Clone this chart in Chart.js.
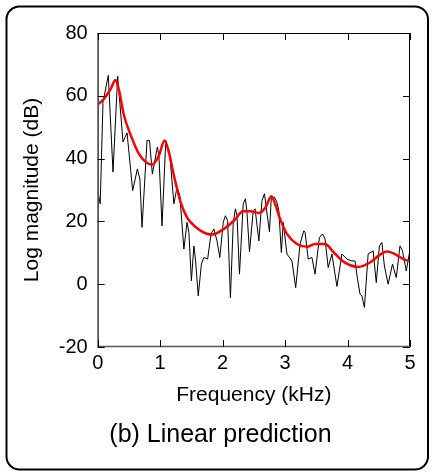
<!DOCTYPE html>
<html>
<head>
<meta charset="utf-8">
<script src="https://cdn.jsdelivr.net/npm/chart.js@4"></script>
<style>
  body { margin: 0; background: #fff; }
</style>
</head>
<body>
<canvas id="grafico" width="433" height="474"></canvas>
<script>
// spectrum (black)
const fftFreq = [0.00, 0.04, 0.085, 0.17, 0.245, 0.32, 0.405, 0.47, 0.56, 0.635, 0.675, 0.71, 0.79, 0.83, 0.875, 0.955, 0.98, 1.03, 1.09, 1.155,
  1.22, 1.27, 1.315, 1.38, 1.43, 1.46, 1.50, 1.54, 1.565, 1.61, 1.66, 1.70, 1.76, 1.815, 1.86, 1.91, 1.955, 2.01, 2.045, 2.08,
  2.125, 2.17, 2.205, 2.23, 2.27, 2.33, 2.365, 2.39, 2.43, 2.49, 2.52, 2.58, 2.63, 2.67, 2.75, 2.78, 2.83, 2.87, 2.90, 2.94,
  2.97, 3.03, 3.11, 3.17, 3.24, 3.30, 3.32, 3.37, 3.43, 3.48, 3.55, 3.60, 3.64, 3.69, 3.75, 3.83, 3.91, 3.99, 4.07, 4.12,
  4.16, 4.20, 4.23, 4.27, 4.33, 4.41, 4.46, 4.51, 4.55, 4.59, 4.65, 4.72, 4.78, 4.84, 4.88, 4.94, 5.00];
const fftMag = [29.8, 25.6, 58, 66.5, 35.7, 66.3, 45.3, 48.2, 29.8, 36.7, 33.5, 18.1, 45.8, 45.8, 35.1, 43.7, 41, 18.6, 45.8, 41,
  25.6, 30.9, 28.2, 11.2, 19.7, 16.5, 1.1, 12.2, 8, -3.7, 6.4, 8.5, 8, 16, 17.6, 13.8, 8.5, 19.7, 21.8, 20.2,
  -4.3, 19.7, 24, 21.8, 3.2, 25.6, 27.2, 22.9, 10.3, 23.4, 24, 13.8, 26.6, 28.8, 16.7, 27.7, 27.7, 26.1, 23.4, 10.1,
  19.7, 9.6, 7.4, -1.1, 12.8, 17, 16.5, 8, 8.5, 3.2, 14.9, 16, 14.4, 5.3, 9.6, -0.7, 9.6, 8, 7.4, 7.4,
  1.6, -3.2, -3.7, -7.4, 9.6, 10.6, 0.5, 12.2, 13.3, 5.8, 0, 6.4, 2.1, 12.2, 10.6, 4.2, 11];

// LPC envelope (red)
const lpcFreq = [0.00, 0.10, 0.21, 0.285, 0.34, 0.42, 0.53, 0.66, 0.79, 0.875, 0.98, 1.07, 1.14, 1.22, 1.33, 1.43, 1.49, 1.65, 1.83, 2.02,
  2.18, 2.33, 2.44, 2.58, 2.69, 2.78, 2.84, 2.92, 3.03, 3.19, 3.35, 3.48, 3.64, 3.78, 3.94, 4.17, 4.36, 4.52, 4.63, 4.76, 4.89, 5.00];
const lpcMag = [57.2, 59, 62.3, 65, 61.8, 53.8, 47.4, 41.5, 38.6, 38.1, 41, 45.8, 42, 34.6, 26, 21.3, 19.7, 17, 15.8, 17.6,
  20.2, 23.2, 23.2, 22.7, 24.5, 28, 25.6, 20.8, 16, 12.8, 11.9, 12.8, 12.8, 10.1, 7.1, 5.5, 6.9, 9.4, 10.4, 9.6, 8, 7.3];

const xTicks = [0, 1, 2, 3, 4, 5];
const yTicks = [-20, 0, 20, 40, 60, 80];

const fuente = 'Liberation Sans, Arial, Helvetica, sans-serif';

// marco redondeado + caja del grafico con ticks hacia dentro
const marco = {
  id: 'marco',
  afterDraw(chart) {
    const ctx = chart.ctx;
    const { left, right, top, bottom } = chart.chartArea;
    const sx = chart.scales.x, sy = chart.scales.y;
    ctx.save();
    ctx.strokeStyle = '#000';
    ctx.lineWidth = 2;
    ctx.beginPath();
    ctx.roundRect(6.5, 6.5, 421.5, 463, 13);
    ctx.stroke();

    ctx.lineWidth = 1;
    ctx.strokeRect(left + 0.5, top + 0.5, right - left - 1, bottom - top - 1);
    // ejes izquierdo e inferior algo mas gruesos, como en el original
    ctx.strokeStyle = '#555';
    ctx.lineWidth = 1.5;
    ctx.beginPath();
    ctx.moveTo(left + 0.5, top);
    ctx.lineTo(left + 0.5, bottom - 0.5);
    ctx.lineTo(right, bottom - 0.5);
    ctx.stroke();

    ctx.strokeStyle = '#000';
    ctx.lineWidth = 1;
    ctx.beginPath();
    xTicks.forEach(v => {
      const px = Math.round(sx.getPixelForValue(v)) + 0.5;
      ctx.moveTo(px, bottom); ctx.lineTo(px, bottom - 7);
      ctx.moveTo(px, top); ctx.lineTo(px, top + 7);
    });
    yTicks.forEach(v => {
      const py = Math.round(sy.getPixelForValue(v)) + 0.5;
      ctx.moveTo(left, py); ctx.lineTo(left + 7, py);
      ctx.moveTo(right, py); ctx.lineTo(right - 7, py);
    });
    ctx.stroke();
    ctx.restore();
  }
};

new Chart(document.getElementById('grafico'), {
  type: 'line',
  data: {
    datasets: [
      {
        label: 'LPC',
        data: lpcFreq.map((f, i) => ({ x: f, y: lpcMag[i] })),
        borderColor: '#ff0000',
        borderWidth: 2.5,
        pointRadius: 0,
        cubicInterpolationMode: 'monotone',
        order: 0
      },
      {
        label: 'Espectro',
        data: fftFreq.map((f, i) => ({ x: f, y: fftMag[i] })),
        borderColor: '#000',
        borderWidth: 1,
        pointRadius: 0,
        tension: 0,
        order: 1
      }
    ]
  },
  options: {
    responsive: false,
    animation: false,
    layout: { padding: { left: 8, right: 0, top: 33, bottom: 24 } },
    plugins: {
      legend: { display: false },
      tooltip: { enabled: false },
      title: {
        display: true,
        position: 'bottom',
        text: '(b) Linear prediction',
        color: '#000',
        font: { family: fuente, size: 25, weight: 'normal' },
        padding: 0
      }
    },
    scales: {
      x: {
        type: 'linear',
        min: 0,
        max: 5,
        afterBuildTicks: s => { s.ticks = xTicks.map(v => ({ value: v })); },
        afterFit: s => { s.height = 73; },
        grid: { display: false, drawTicks: false },
        border: { display: false },
        ticks: { color: '#000', padding: 4, maxRotation: 0, font: { family: fuente, size: 20 } },
        title: {
          display: true,
          text: 'Frequency (kHz)',
          color: '#000',
          font: { family: fuente, size: 21 },
          padding: { top: 0, bottom: 12 }
        }
      },
      y: {
        min: -20,
        max: 80,
        afterBuildTicks: s => { s.ticks = yTicks.map(v => ({ value: v })); },
        afterFit: s => { s.width = 89.7; },
        grid: { display: false, drawTicks: false },
        border: { display: false },
        ticks: { color: '#000', padding: 10, font: { family: fuente, size: 20 } },
        title: {
          display: true,
          text: 'Log magnitude (dB)',
          color: '#000',
          font: { family: fuente, size: 21 },
          padding: { top: 12, bottom: 0 }
        }
      },
      y2: {
        position: 'right',
        display: true,
        afterFit: s => { s.width = 23; },
        grid: { display: false, drawTicks: false },
        border: { display: false },
        ticks: { display: false }
      }
    }
  },
  plugins: [marco]
});
</script>
</body>
</html>
